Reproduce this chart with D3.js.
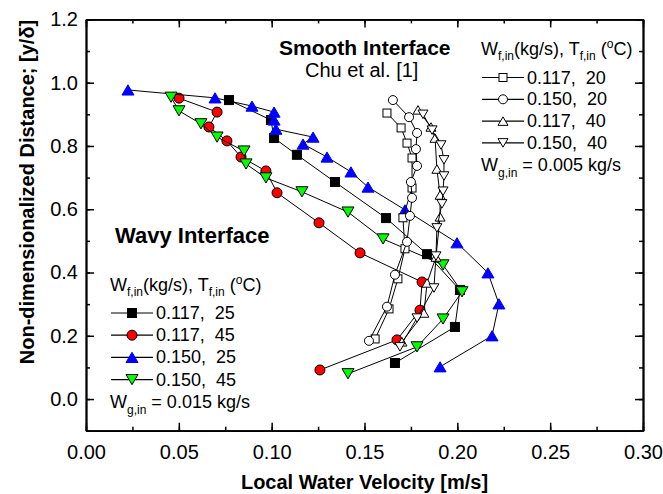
<!DOCTYPE html>
<html><head><meta charset="utf-8">
<script src="https://cdn.jsdelivr.net/npm/d3@7"></script>
<style>
body{margin:0;background:#fff}
svg text{font-family:Arial,"Liberation Sans",sans-serif;white-space:pre}
</style>
</head><body>
<svg id="c" width="663" height="494"></svg>
<script>
// ---------- data ----------
const xTicks = [0.00, 0.05, 0.10, 0.15, 0.20, 0.25, 0.30];
const yTicks = [0.0, 0.2, 0.4, 0.6, 0.8, 1.0, 1.2];
const xTitle = "Local Water Velocity [m/s]";
const yTitle = "Non-dimensionalized Distance; [y/\u03b4]";

// Wavy interface (present work), velocity [m/s] / y/delta
const wavy117_25_v = [0.077,0.0996,0.1013,0.1136,0.1341,0.1616,0.1837,0.2014,0.1987,0.1664];
const wavy117_25_y = [0.945,0.882,0.825,0.772,0.686,0.572,0.458,0.345,0.228,0.114];
const wavy117_45_v = [0.0501,0.0706,0.0662,0.0759,0.0835,0.0969,0.1029,0.1255,0.1476,0.181,0.1799,0.1675,0.126];
const wavy117_45_y = [0.951,0.907,0.860,0.816,0.765,0.721,0.652,0.557,0.462,0.370,0.281,0.187,0.092];
const wavy150_25_v = [0.0226,0.0695,0.0894,0.1013,0.1013,0.1023,0.1223,0.1169,0.1298,0.1427,0.1519,0.1718,0.1998,0.2165,0.2224,0.2187,0.1907];
const wavy150_25_y = [0.977,0.952,0.926,0.907,0.882,0.853,0.828,0.806,0.765,0.718,0.670,0.598,0.494,0.399,0.301,0.200,0.102];
const wavy150_45_v = [0.0458,0.0501,0.0619,0.0706,0.0851,0.0862,0.0969,0.1163,0.1411,0.16,0.1923,0.2025,0.1923,0.1783,0.1411];
const wavy150_45_y = [0.954,0.911,0.870,0.828,0.784,0.743,0.699,0.655,0.591,0.506,0.424,0.339,0.253,0.165,0.080];

// Smooth interface (Chu et al. [1])
const chu117_20_v = [0.1621,0.1697,0.1729,0.1756,0.1756,0.1707,0.1718,0.168,0.1632,0.1557];
const chu117_20_y = [0.904,0.857,0.809,0.762,0.667,0.573,0.475,0.380,0.285,0.190];
const chu150_20_v = [0.1653,0.174,0.1783,0.1777,0.1783,0.175,0.1756,0.1745,0.1729,0.1664,0.1621,0.1524];
const chu150_20_y = [0.945,0.891,0.841,0.790,0.737,0.686,0.636,0.579,0.497,0.393,0.292,0.184];
const chu117_40_v = [0.1788,0.1858,0.188,0.189,0.1907,0.1907,0.1885,0.1837,0.182,0.1702];
const chu117_40_y = [0.914,0.860,0.825,0.727,0.645,0.576,0.449,0.367,0.272,0.181];
const chu150_40_v = [0.1815,0.1864,0.1912,0.1928,0.1928,0.1923,0.1917,0.189,0.1885,0.1874,0.1783,0.1691];
const chu150_40_y = [0.900,0.850,0.803,0.756,0.705,0.657,0.617,0.541,0.452,0.351,0.256,0.165];

const wavyLabels = ["0.117,  25","0.117,  45","0.150,  25","0.150,  45"];
const smoothLabels = ["0.117,  20","0.150,  20","0.117,  40","0.150,  40"];

// ---------- styles (built from the arrays above) ----------
const series = [
  {v:wavy117_25_v, y:wavy117_25_y, shape:"square", fill:"#000000", stroke:"#000000", s:9},
  {v:wavy117_45_v, y:wavy117_45_y, shape:"circle", fill:"#ff0000", stroke:"#000000", s:10},
  {v:wavy150_25_v, y:wavy150_25_y, shape:"up", fill:"#0000ff", stroke:"#0000ff", s:12},
  {v:wavy150_45_v, y:wavy150_45_y, shape:"down", fill:"#00ff00", stroke:"#000000", s:12},
  {v:chu117_20_v, y:chu117_20_y, shape:"square", fill:"#ffffff", stroke:"#000000", s:8},
  {v:chu150_20_v, y:chu150_20_y, shape:"circle", fill:"#ffffff", stroke:"#000000", s:9},
  {v:chu117_40_v, y:chu117_40_y, shape:"up", fill:"#ffffff", stroke:"#000000", s:10},
  {v:chu150_40_v, y:chu150_40_y, shape:"down", fill:"#ffffff", stroke:"#000000", s:10}
];

// ---------- layout ----------
const svg = d3.select("#c");
const L = 86, R = 643, T = 19.4, B = 430.7;
const x = d3.scaleLinear().domain([0, 0.30]).range([L, R]);
const y = d3.scaleLinear().domain([-0.1, 1.2]).range([B, T]);

function marker(g, shape, cx, cy, s, fill, stroke) {
  let el;
  if (shape === "square") {
    el = g.append("rect").attr("x", cx - s/2).attr("y", cy - s/2).attr("width", s).attr("height", s);
  } else if (shape === "circle") {
    el = g.append("circle").attr("cx", cx).attr("cy", cy).attr("r", s/2);
  } else {
    const w = s, h = s * 0.85, d = shape === "up" ? 1 : -1;
    const p = d3.path();
    p.moveTo(cx, cy - d*h/2); p.lineTo(cx + w/2, cy + d*h/2); p.lineTo(cx - w/2, cy + d*h/2); p.closePath();
    el = g.append("path").attr("d", p.toString());
  }
  el.attr("fill", fill).attr("stroke", stroke).attr("stroke-width", 1);
}

// data
const line = d3.line().x(d => x(d[0])).y(d => y(d[1]));
const dataG = svg.append("g");
series.forEach(se => {
  const pts = se.v.map((v, i) => [v, se.y[i]]);
  dataG.append("path").attr("d", line(pts)).attr("fill", "none").attr("stroke", "#000").attr("stroke-width", 1);
  pts.forEach(p => marker(dataG, se.shape, x(p[0]), y(p[1]), se.s, se.fill, se.stroke));
});

// axes
const fmtX = d3.format(".2f"), fmtY = d3.format(".1f");
const xMinor = d3.range(0, 0.3001, 0.025);
const yMinor = d3.range(-0.1, 1.2001, 0.1);
function styleAxis(g) {
  g.selectAll("path.domain").attr("stroke", "#000").attr("stroke-width", 1.8);
  g.selectAll(".tick line").attr("stroke", "#000").attr("stroke-width", 1.5);
  g.selectAll("text").attr("fill", "#000").style("font-size", "20px").style("font-family", "Arial, 'Liberation Sans', sans-serif");
}
svg.append("g").attr("transform", `translate(0,${B})`)
  .call(d3.axisBottom(x).tickValues(xMinor).tickSize(-4).tickFormat("").tickSizeOuter(0)).call(styleAxis);
svg.append("g").attr("transform", `translate(0,${B})`)
  .call(d3.axisBottom(x).tickValues(xTicks).tickSize(-8).tickPadding(14).tickFormat(fmtX).tickSizeOuter(0)).call(styleAxis);
svg.append("g").attr("transform", `translate(0,${T})`)
  .call(d3.axisTop(x).tickValues(xMinor).tickSize(-4).tickFormat("").tickSizeOuter(0)).call(styleAxis);
svg.append("g").attr("transform", `translate(0,${T})`)
  .call(d3.axisTop(x).tickValues(xTicks).tickSize(-8).tickFormat("").tickSizeOuter(0)).call(styleAxis);
svg.append("g").attr("transform", `translate(${L},0)`)
  .call(d3.axisLeft(y).tickValues(yMinor).tickSize(-4).tickFormat("").tickSizeOuter(0)).call(styleAxis);
svg.append("g").attr("transform", `translate(${L},0)`)
  .call(d3.axisLeft(y).tickValues(yTicks).tickSize(-8).tickPadding(8).tickFormat(fmtY).tickSizeOuter(0)).call(styleAxis);
svg.append("g").attr("transform", `translate(${R},0)`)
  .call(d3.axisRight(y).tickValues(yMinor).tickSize(-4).tickFormat("").tickSizeOuter(0)).call(styleAxis);
svg.append("g").attr("transform", `translate(${R},0)`)
  .call(d3.axisRight(y).tickValues(yTicks).tickSize(-8).tickFormat("").tickSizeOuter(0)).call(styleAxis);

// axis titles
svg.append("text").attr("x", (L + R) / 2).attr("y", 489).attr("text-anchor", "middle")
  .style("font-size", "20px").style("font-weight", "bold").text(xTitle);
svg.append("text").attr("transform", "translate(34,192) rotate(-90)").attr("text-anchor", "middle")
  .style("font-size", "20px").style("font-weight", "bold").text(yTitle);

// annotations
svg.append("text").attr("x", 279).attr("y", 55).style("font-size", "21px").style("font-weight", "bold").text("Smooth Interface");
svg.append("text").attr("x", 305).attr("y", 77).style("font-size", "20px").text("Chu et al. [1]");
svg.append("text").attr("x", 115).attr("y", 243).style("font-size", "22px").style("font-weight", "bold").text("Wavy Interface");

// legends
function legendTitle(x0, y0) {
  const t = svg.append("text").attr("x", x0).attr("y", y0).style("font-size", "18px");
  t.append("tspan").text("W");
  t.append("tspan").attr("dy", 5).style("font-size", "12px").text("f,in");
  t.append("tspan").attr("dy", -5).text("(kg/s), T");
  t.append("tspan").attr("dy", 5).style("font-size", "12px").text("f,in");
  t.append("tspan").attr("dy", -5).text(" (");
  t.append("tspan").attr("dy", -7).style("font-size", "12px").text("o");
  t.append("tspan").attr("dy", 7).text("C)");
}
function legendGas(x0, y0, val) {
  const t = svg.append("text").attr("x", x0).attr("y", y0).style("font-size", "18px");
  t.append("tspan").text("W");
  t.append("tspan").attr("dy", 6).style("font-size", "12px").text("g,in");
  t.append("tspan").attr("dy", -6).text(" = " + val + " kg/s");
}
function legendBlock(x0, yTitle0, yFirst, gap, labels, sers, gasVal) {
  legendTitle(x0, yTitle0);
  labels.forEach((lab, i) => {
    const yy = yFirst + i * gap;
    const se = sers[i];
    svg.append("line").attr("x1", x0 + 1).attr("x2", x0 + 43).attr("y1", yy - 6).attr("y2", yy - 6)
      .attr("stroke", "#000").attr("stroke-width", 1.2);
    marker(svg, se.shape, x0 + 22, yy - 6, se.s, se.fill, se.stroke);
    svg.append("text").attr("x", x0 + 46).attr("y", yy).style("font-size", "18px").text(lab);
  });
  legendGas(x0, yFirst + labels.length * gap, gasVal);
}
legendBlock(110, 291, 319, 22.2, wavyLabels, series.slice(0, 4), "0.015");
legendBlock(481, 55, 83.5, 21.8, smoothLabels, series.slice(4, 8), "0.005");
</script>
</body></html>
